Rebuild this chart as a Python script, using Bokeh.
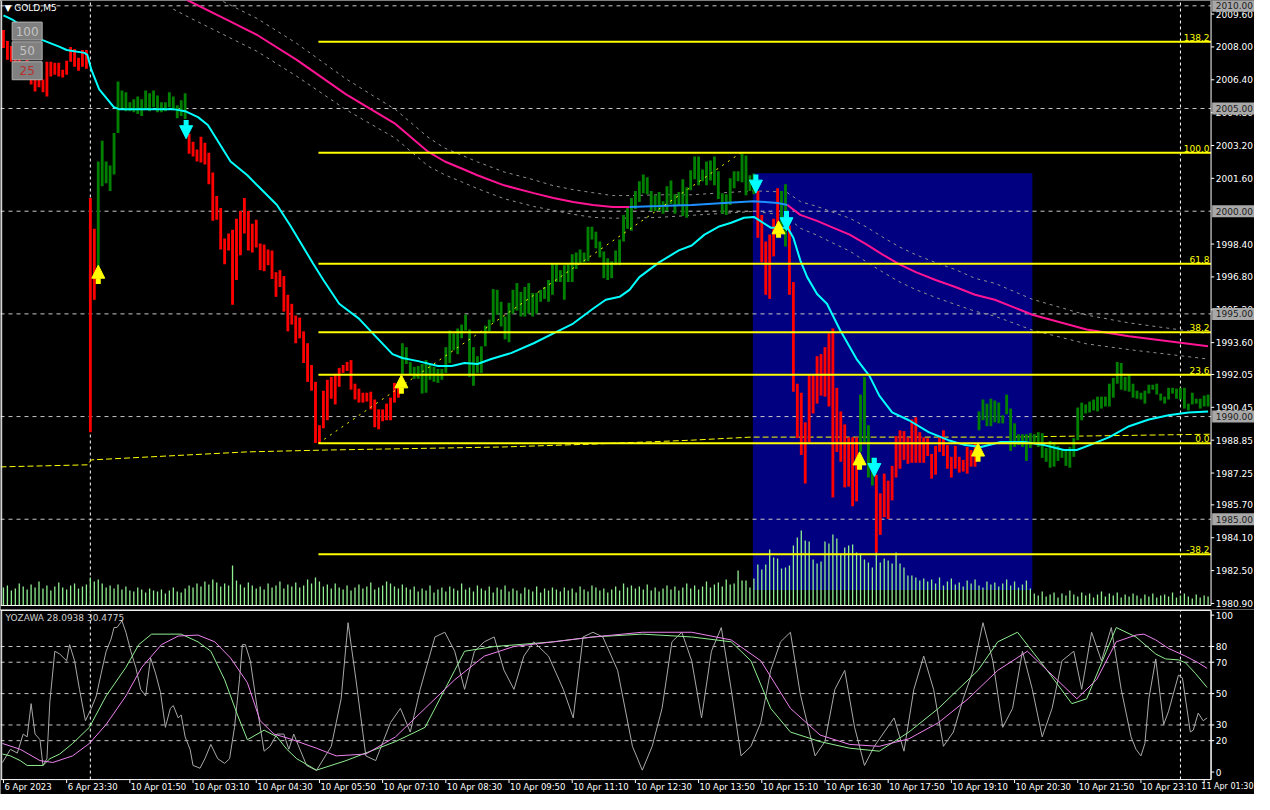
from bokeh.plotting import figure
from bokeh.models import Range1d, Label, ColumnDataSource, Arrow, NormalHead
from bokeh.layouts import column
from bokeh.embed import file_html
from bokeh.resources import INLINE
from bokeh.core.properties import value

# ---------------- data ----------------
symbol_title = "\u25BC GOLD,M5"
osc_title = "YOZAWA 28.0938 30.4775"

time_labels = ["6 Apr 2023", "6 Apr 23:30", "10 Apr 01:50", "10 Apr 03:10", "10 Apr 04:30",
               "10 Apr 05:50", "10 Apr 07:10", "10 Apr 08:30", "10 Apr 09:50", "10 Apr 11:10",
               "10 Apr 12:30", "10 Apr 13:50", "10 Apr 15:10", "10 Apr 16:30", "10 Apr 17:50",
               "10 Apr 19:10", "10 Apr 20:30", "10 Apr 21:50", "10 Apr 23:10", "11 Apr 01:30"]
bars_per_label = 16

price_ticks = [2009.60, 2008.00, 2006.40, 2004.80, 2003.20, 2001.60, 1998.40, 1996.80, 1995.20,
               1993.60, 1992.05, 1990.45, 1988.85, 1987.25, 1985.70, 1984.10, 1982.50, 1980.90]
round_levels = [2010.0, 2005.0, 2000.0, 1995.0, 1990.0, 1985.0]
osc_ticks = [0, 20, 30, 50, 70, 80, 100]
osc_levels = [80, 70, 50, 30, 20]

# heiken-ashi style bodies: top / bottom of each 5-minute bar
body_top = [
    2008.82, 2008.29, 2008.05, 2007.76, 2007.47, 2007.28, 2007.37, 2007.13, 2006.80, 2006.41,
    2006.41, 2007.28, 2007.28, 2007.23, 2007.23, 2006.89, 2007.33, 2008.00, 2007.90, 2007.47,
    2007.85, 2007.85, 2000.64, 1999.15, 2002.42, 2003.43, 2002.42, 2002.23, 2003.81, 2006.32,
    2005.88, 2005.79, 2005.30, 2005.45, 2005.59, 2005.45, 2005.88, 2005.74, 2005.88, 2005.64,
    2005.30, 2005.30, 2005.79, 2005.59, 2005.16, 2005.40, 2005.74, 2003.77, 2003.38, 2003.00,
    2003.62, 2003.33, 2002.85, 2001.89, 2000.74, 2000.16, 1998.67, 1998.91, 1999.10, 1999.63,
    2000.01, 2000.64, 2000.01, 1999.39, 1999.58, 1998.43, 1998.38, 1998.14, 1998.09, 1997.03,
    1997.13, 1996.84, 1995.93, 1995.49, 1994.92, 1994.82, 1994.15, 1993.57, 1992.51, 1991.69,
    1989.58, 1991.26, 1991.79, 1991.93, 1992.08, 1992.37, 1992.51, 1992.66, 1992.75, 1991.60,
    1991.36, 1991.16, 1991.16, 1991.21, 1990.83, 1990.35, 1990.35, 1990.63, 1990.92, 1991.64,
    1991.60, 1993.57, 1993.38, 1992.66, 1992.42, 1992.46, 1992.56, 1992.75, 1992.56, 1992.42,
    1992.32, 1992.32, 1993.38, 1994.19, 1994.05, 1994.29, 1994.48, 1994.96, 1994.24, 1993.38,
    1992.94, 1993.42, 1994.43, 1994.72, 1996.21, 1996.17, 1995.59, 1994.87, 1995.54, 1996.17,
    1996.50, 1996.07, 1996.31, 1996.50, 1996.02, 1996.02, 1996.17, 1996.31, 1996.65, 1997.42,
    1997.42, 1997.13, 1997.37, 1997.42, 1997.90, 1997.99, 1998.14, 1997.99, 1999.24, 1999.24,
    1999.00, 1998.52, 1998.04, 1997.71, 1997.56, 1998.09, 1998.62, 1999.82, 2000.16, 2000.64,
    2000.98, 2001.46, 2001.79, 2001.65, 2000.98, 2000.78, 2000.93, 2000.49, 2001.22, 2001.50,
    2000.83, 2000.93, 2001.55, 2001.17, 2001.99, 2002.66, 2002.66, 2002.03, 2002.42, 2002.47,
    2002.66, 2001.94, 2000.88, 2000.83, 2001.60, 2001.94, 2001.94, 2002.80, 2002.71, 2001.75,
    2001.84, 2000.98, 1999.82, 1998.52, 1998.86, 1999.63, 2001.12, 2000.98, 2001.31, 1999.29,
    1996.55, 1991.60, 1991.16, 1989.72, 1992.03, 1992.03, 1992.94, 1993.04, 1993.38, 1994.05,
    1994.29, 1991.40, 1990.25, 1989.62, 1988.99, 1988.99, 1988.99, 1991.07, 1991.93, 1989.58,
    1987.99, 1987.17, 1986.26, 1987.22, 1986.88, 1987.60, 1989.05, 1989.33, 1989.29, 1988.99,
    1989.86, 1989.96, 1989.24, 1988.99, 1988.95, 1988.18, 1988.57, 1988.99, 1989.33, 1988.61,
    1988.04, 1988.57, 1988.04, 1987.89, 1988.52, 1988.37, 1988.71, 1990.25, 1990.83, 1990.63,
    1990.87, 1990.78, 1990.68, 1990.06, 1991.07, 1990.39, 1989.67, 1989.14, 1989.14, 1989.14,
    1989.19, 1989.14, 1989.24, 1989.19, 1988.47, 1988.81, 1988.76, 1988.57, 1988.42, 1988.42,
    1988.52, 1988.95, 1990.44, 1990.68, 1990.59, 1990.73, 1990.83, 1990.97, 1990.97, 1990.97,
    1991.60, 1991.88, 1992.66, 1992.61, 1991.93, 1992.03, 1991.60, 1991.26, 1991.16, 1991.26,
    1991.55, 1991.55, 1991.60, 1991.12, 1990.97, 1991.40, 1991.40, 1991.36, 1991.40, 1991.40,
    1990.63, 1991.16, 1990.87, 1990.87, 1991.02, 1991.07]
body_bottom = [
    2007.95, 2007.37, 2007.28, 2006.89, 2006.65, 2006.41, 2006.51, 2006.17, 2005.83, 2006.03,
    2005.79, 2005.59, 2006.56, 2006.65, 2006.56, 2006.51, 2006.65, 2007.28, 2007.04, 2006.84,
    2007.04, 2006.94, 1989.24, 1995.69, 1997.27, 2001.22, 2001.36, 2000.98, 2001.79, 2003.81,
    2005.02, 2004.87, 2004.87, 2004.82, 2004.73, 2004.63, 2004.97, 2004.87, 2005.06, 2004.82,
    2004.82, 2004.87, 2005.06, 2004.92, 2004.53, 2004.63, 2004.49, 2002.80, 2002.66, 2002.42,
    2002.37, 2002.27, 2001.31, 1999.53, 1999.58, 1998.14, 1997.42, 1998.09, 1995.44, 1996.65,
    1997.85, 1998.91, 1998.09, 1997.99, 1998.23, 1997.13, 1997.08, 1997.37, 1996.70, 1995.83,
    1996.31, 1995.11, 1994.15, 1994.48, 1993.57, 1993.81, 1992.61, 1991.69, 1991.26, 1988.71,
    1988.71, 1989.43, 1989.82, 1990.87, 1990.59, 1991.45, 1992.13, 1992.22, 1991.31, 1990.83,
    1990.68, 1990.68, 1990.73, 1990.35, 1989.48, 1989.38, 1989.77, 1989.82, 1989.82, 1990.68,
    1990.92, 1992.03, 1992.56, 1992.03, 1991.84, 1991.84, 1991.12, 1991.16, 1991.79, 1991.69,
    1991.64, 1991.79, 1992.13, 1992.61, 1993.23, 1993.04, 1993.81, 1994.19, 1991.93, 1991.50,
    1992.13, 1992.13, 1993.42, 1994.15, 1994.58, 1994.96, 1994.39, 1993.76, 1993.62, 1995.01,
    1995.16, 1994.87, 1994.87, 1995.01, 1994.87, 1995.01, 1995.59, 1995.73, 1995.59, 1995.93,
    1996.55, 1996.55, 1995.69, 1996.55, 1996.55, 1997.18, 1997.42, 1997.51, 1997.56, 1998.62,
    1998.19, 1997.75, 1996.74, 1996.65, 1996.74, 1997.37, 1997.37, 1998.52, 1999.15, 1999.05,
    2000.11, 2000.45, 2000.88, 2000.83, 2000.01, 2000.01, 2000.01, 1999.87, 2000.01, 2000.35,
    1999.87, 2000.30, 1999.77, 1999.68, 2001.02, 2001.55, 2001.26, 2001.46, 2001.26, 2001.50,
    2001.26, 2000.59, 1999.87, 1999.82, 2000.30, 2001.12, 2001.46, 2001.41, 2000.78, 2000.98,
    2000.83, 1998.71, 1997.51, 1995.93, 1995.73, 1997.80, 1998.86, 1999.10, 1998.28, 1995.93,
    1991.21, 1988.95, 1988.13, 1986.74, 1988.76, 1990.15, 1990.63, 1991.02, 1990.97, 1990.49,
    1986.06, 1988.28, 1987.80, 1986.55, 1986.59, 1985.63, 1985.87, 1988.28, 1988.76, 1987.03,
    1986.64, 1983.37, 1984.24, 1985.10, 1985.01, 1985.92, 1987.03, 1987.46, 1987.89, 1987.70,
    1987.75, 1987.75, 1987.75, 1987.75, 1988.08, 1986.98, 1987.17, 1988.28, 1988.08, 1987.46,
    1987.03, 1987.46, 1987.27, 1987.32, 1987.22, 1987.56, 1987.56, 1989.33, 1989.82, 1989.53,
    1989.53, 1989.72, 1989.67, 1989.67, 1990.11, 1988.33, 1988.52, 1988.61, 1988.52, 1987.84,
    1988.47, 1988.76, 1988.52, 1987.99, 1987.80, 1987.51, 1987.56, 1987.84, 1987.99, 1987.60,
    1987.51, 1988.04, 1988.85, 1989.82, 1990.15, 1990.20, 1990.30, 1990.25, 1990.39, 1990.49,
    1990.49, 1990.92, 1991.60, 1991.31, 1991.26, 1991.21, 1990.92, 1990.87, 1990.83, 1990.63,
    1991.12, 1991.31, 1991.07, 1990.78, 1990.63, 1990.83, 1991.12, 1990.87, 1990.83, 1990.39,
    1990.30, 1990.59, 1990.63, 1990.39, 1990.49, 1990.49]
# bar colour runs: r = bearish (red), g = bullish (green)
trend_runs = [("r", 24), ("g", 23), ("r", 54), ("g", 90), ("r", 6), ("g", 2),
              ("r", 18), ("g", 4), ("r", 26), ("g", 59)]

tick_volume = [
    18, 20, 15, 17, 22, 19, 16, 21, 18, 24, 17, 20, 15, 19, 23, 18, 16, 20, 22, 17, 19, 21,
    28, 24,
    26, 22, 18, 20, 17, 21, 16, 19, 15, 14, 18, 16, 13, 17, 15, 14, 16, 12, 15, 18, 14, 13, 17,
    20, 18, 22, 19, 24, 21, 26, 23, 19, 22, 20, 40, 25, 21, 18, 23, 20, 17,
    19, 16, 22, 18, 20, 24, 17, 21, 19, 23, 18, 20, 26, 22, 28, 24, 19, 21, 17, 22,
    18, 16, 20, 15, 18, 21, 17, 19, 23, 16, 18, 20, 24, 22, 19, 17,
    21, 18, 16, 19, 14, 17, 15, 20, 13, 16, 18, 14, 19, 17, 15, 22, 16, 18, 14, 20,
    17, 15, 19, 13, 18, 16, 20, 14, 17, 15, 12, 18, 16, 14, 19, 13, 17, 15, 18, 16,
    14, 18, 15, 17, 13, 19, 16, 14, 20, 18, 15, 17, 13, 16, 19, 15, 22, 18, 20, 17,
    19, 16, 21, 15, 18, 14, 17, 20, 16, 19, 15, 18, 22, 17, 20, 16, 19, 24, 18, 21,
    23, 19, 26, 21, 22, 35, 25, 25, 18,
    27, 41, 36, 41, 56, 48, 47, 37, 38, 40, 60, 68, 75, 65, 64, 46, 42, 44, 64, 62,
    71, 67, 52, 58, 60, 61, 53, 52, 46, 43, 38, 59, 43, 47, 45, 42, 53, 42, 38, 30,
    30, 28, 25, 27, 24,
    26, 22, 28, 20, 24, 27, 21, 23, 19, 25, 22, 26, 20, 18, 24, 21, 23, 19, 22, 26,
    20, 24, 18, 21, 25, 17,
    12, 10, 14, 9, 11, 13, 8, 12, 10, 15, 11, 9, 13, 10, 12, 8, 11, 14, 9, 12,
    10, 13, 8, 11, 9, 12, 10, 7, 11, 9, 12, 8, 10, 11, 9, 13, 8, 10, 12, 9, 7, 11, 8, 10, 9]

# fast moving average (cyan): (bar, price)
ma_fast = [(0, 2009.54), (2.5, 2009.30), (9.75, 2008.34), (14.25, 2008.00), (16, 2007.85),
           (20.5, 2007.71), (21.25, 2007.61), (22.25, 2006.89), (24.25, 2005.93), (28, 2005.06),
           (29.25, 2004.97), (43, 2004.97), (46, 2004.87), (49.25, 2004.58), (51.75, 2004.20),
           (57.5, 2002.42), (61.75, 2001.75), (64.25, 2001.26), (69.25, 2000.30), (72.5, 1999.34),
           (78.5, 1997.42), (81, 1996.65), (85, 1995.49), (90, 1994.77), (93.5, 1994.05),
           (98.5, 1993.04), (101, 1992.85), (105, 1992.70), (110, 1992.46), (113.5, 1992.46),
           (116.75, 1992.61), (120, 1992.56), (123.5, 1992.80), (128.5, 1993.09), (134.25, 1993.57),
           (139.25, 1994.05), (144.25, 1994.53), (149.25, 1995.25), (152.5, 1995.69), (156, 1995.83),
           (158.5, 1996.17), (161, 1996.79), (166, 1997.51), (171, 1998.09), (174.25, 1998.33),
           (177.5, 1998.86), (181, 1999.24), (184.25, 1999.44), (187.5, 1999.68), (190, 1999.72),
           (194.25, 1999.20), (198.5, 1999.20), (200, 1998.71), (201.75, 1997.61), (203.5, 1996.79),
           (206, 1995.97), (208.5, 1995.49), (211.75, 1994.24), (216, 1992.80), (219.25, 1991.98),
           (221.75, 1991.02), (225, 1990.20), (229.25, 1989.82), (234.25, 1989.24), (239.25, 1988.85),
           (243.5, 1988.61), (247.5, 1988.52), (252.5, 1988.76), (258.5, 1988.76), (263.5, 1988.61),
           (268.5, 1988.37), (271.75, 1988.37), (275, 1988.61), (280, 1989.00), (285, 1989.53),
           (290, 1989.86), (295, 1990.06), (300, 1990.20), (305, 1990.25)]

# slow moving average (magenta / blue while flat): (bar, price, envelope half width)
ma_slow = [(43, 2010.64, 0.8), (46.75, 2010.26, 0.8), (56.75, 2009.30, 0.8), (64.25, 2008.58, 0.8),
           (74.25, 2007.37, 0.8), (86.75, 2005.69, 0.75), (99.25, 2004.25, 0.7), (107.5, 2002.90, 0.7),
           (111.75, 2002.42, 0.65), (116, 2002.08, 0.65), (120, 2001.75, 0.65), (126.75, 2001.26, 0.65),
           (134.25, 2000.88, 0.65), (139.25, 2000.64, 0.6), (144.25, 2000.45, 0.6), (149.25, 2000.30, 0.6),
           (154.25, 2000.21, 0.55), (158.5, 2000.21, 0.55), (166, 2000.25, 0.55), (174.25, 2000.30, 0.5),
           (182.5, 2000.40, 0.5), (190, 2000.49, 0.5), (196, 2000.40, 0.55), (198.5, 2000.30, 0.6),
           (201.75, 1999.82, 0.65), (206, 1999.53, 0.7), (210, 1999.20, 0.75), (214.25, 1998.86, 0.8),
           (218.5, 1998.38, 0.85), (222.5, 1997.90, 0.85), (226.75, 1997.42, 0.85), (231, 1997.03, 0.85),
           (236, 1996.65, 0.85), (241, 1996.31, 0.85), (246, 1995.93, 0.8), (251, 1995.69, 0.8),
           (260.5, 1994.96, 0.75), (274.25, 1994.24, 0.7), (285, 1993.91, 0.65), (305, 1993.42, 0.62)]
slow_flat_from, slow_flat_to = 158.5, 198.5

# long moving average (yellow dashed)
ma_long = [(-0.75, 1987.55), (21.25, 1987.65), (22.25, 1987.89), (61.75, 1988.28), (81.75, 1988.37),
           (126.75, 1988.52), (149.25, 1988.66), (174.25, 1988.85), (189.25, 1989.00),
           (254.25, 1989.00), (305.75, 1989.14)]

# Fibonacci retracement anchors
fib_low_bar, fib_low = 79.75, 1988.70
fib_high_bar, fib_high = 186.75, 2002.85
fib_ratios = [138.2, 100.0, 61.8, 38.2, 23.6, 0.0, -38.2]

# rectangle zone
zone_left, zone_right, zone_top, zone_bottom = 189.75, 260.5, 2001.85, 1981.55

# signal arrows: (bar, tail price, tip price)
buy_arrows = [(24, 1996.45, 1997.37), (100.75, 1991.11, 1992.03), (196.25, 1998.71, 1999.53),
              (216.75, 1987.41, 1988.28), (246.75, 1987.80, 1988.71)]
sell_arrows = [(46.25, 2004.44, 2003.53), (190.5, 2001.79, 2000.88), (198.25, 2000.01, 1999.05),
               (220.5, 1987.99, 1987.08)]

# period separators (vertical dashed)
separators = [22, 298]

# on-chart buttons
button_text = ["100", "50", "25"]
button_price = [2008.77, 2007.81, 2006.84]
button_color = ["#C4C4C4", "#C4C4C4", "#B83030"]

# oscillator lines: (bar, value)
osc_main = [(-0.25, 6.1), (1.75, 14.5), (3.5, 12.1), (5, 24.2), (6, 22.4), (7, 43.6), (8, 24.2),
            (9.25, 20.6), (10, 4.2), (11, 8.5), (11.75, 44.8), (13, 77.0), (14.25, 75.2), (16, 70.9),
            (16.75, 81.2), (18, 70.9), (19.25, 52.7), (20.75, 32.7), (22.25, 40.6), (23.5, 48.5),
            (24.75, 63.0), (26, 77.0), (27.25, 84.8), (28, 92.1), (28.75, 92.1), (30, 96.4), (31, 89.1),
            (32.25, 77.0), (33.5, 66.7), (34.75, 52.7), (36, 48.5), (37.25, 72.7), (38.5, 63.0),
            (39.75, 50.9), (41, 28.5), (42.25, 40.6), (43, 42.4), (44.25, 34.5), (45, 36.4), (46, 22.4),
            (47.25, 14.5), (48, 4.2), (49.25, 3.0), (49.75, 2.4), (51, 8.5), (52.5, 17.6), (54.25, 8.5),
            (56, 5.5), (57.25, 8.5), (58.5, 28.5), (59.75, 58.8), (60.5, 81.2), (61.25, 81.2),
            (62.5, 70.9), (64.25, 40.6), (66, 13.3), (67.5, 16.4), (69.25, 24.2), (71, 24.2),
            (72.25, 14.5), (73.5, 24.2), (74.25, 19.4), (76.75, 4.2), (79.25, 1.0), (83, 16.4),
            (85.5, 46.7), (87.25, 95.2), (89.25, 58.8), (91.75, 10.3), (94.25, 7.3), (98, 31.5),
            (100.5, 40.6), (103, 25.5), (105.5, 52.7), (109.25, 86.1), (111.75, 89.1), (114.25, 77.0),
            (116.75, 52.7), (119.25, 77.0), (121.75, 83.0), (124.25, 86.1), (126.75, 64.8),
            (129.25, 52.7), (131.75, 73.9), (134.25, 83.0), (138, 73.9), (141.75, 52.7), (144.25, 34.5),
            (146.75, 86.1), (149.25, 89.1), (151.75, 86.1), (155.5, 64.8), (159.25, 16.4), (161.75, 1.2),
            (164.25, 16.4), (166.75, 40.6), (169.25, 83.0), (171.75, 89.1), (174.25, 70.9),
            (176.75, 34.5), (179.25, 77.0), (181.75, 92.1), (184.25, 52.7), (186.75, 10.3),
            (189.25, 16.4), (191.75, 31.5), (194.25, 64.8), (196.75, 83.0), (199.25, 89.1),
            (201.75, 49.7), (205.5, 10.3), (208, 19.4), (210.5, 52.7), (213, 64.8), (215.5, 28.5),
            (218, 4.2), (220.5, 16.4), (223, 25.5), (225.5, 34.5), (228, 13.3), (230.5, 52.7),
            (233, 73.9), (235.5, 52.7), (238, 16.4), (240.5, 25.5), (243, 46.7), (245.5, 64.8),
            (248, 95.2), (250.5, 70.9), (253, 28.5), (255.5, 40.6), (258, 77.0), (260.5, 52.7),
            (263, 22.4), (265.5, 40.6), (268, 70.9), (271, 77.0), (273, 52.7), (275.5, 89.1),
            (278, 70.9), (280.5, 92.1), (283, 52.7), (285.5, 22.4), (286.75, 14.5), (288, 10.3),
            (289, 18.2), (290, 46.7), (291.75, 72.1), (293.75, 30.3), (295, 38.8), (297.5, 61.8),
            (298.5, 60.0), (300.5, 25.5), (301.25, 26.7), (302.5, 37.6), (303.75, 32.7), (304.75, 34.5)]
osc_signal = [(-0.25, 11.5), (1.75, 10.3), (4.25, 7.3), (6, 4.2), (10, 4.2), (11.75, 8.5), (14.25, 11.5),
              (17.5, 18.2), (21.75, 28.5), (26, 48.5), (31, 66.7), (34.25, 81.2), (37.5, 87.9),
              (45, 87.9), (49.25, 83.0), (52.5, 77.0), (56, 58.8), (59.25, 36.4), (61.75, 20.6),
              (66, 26.7), (69.25, 22.4), (71.75, 14.5), (74.25, 8.5), (79.25, 1.2), (86.75, 7.3),
              (99.25, 19.4), (106.75, 28.5), (114.25, 64.8), (116.75, 77.0), (124.25, 80.0),
              (139.25, 83.0), (149.25, 86.1), (161.75, 87.9), (174.25, 86.1), (184.25, 83.0),
              (189.25, 70.9), (194.25, 40.6), (199.25, 25.5), (206.75, 19.4), (214.25, 15.2),
              (221.75, 13.3), (229.25, 25.5), (236.75, 40.6), (246.75, 64.8), (251.75, 83.0),
              (256.75, 89.1), (264.25, 64.8), (270.5, 43.6), (274.25, 46.7), (279.25, 77.0),
              (281.75, 92.1), (286.75, 86.1), (291.75, 75.2), (294.25, 72.1), (297.5, 71.5),
              (299.25, 69.7), (301.75, 63.0), (304.75, 53.9)]
osc_slow = [(-0.25, 18.2), (4.25, 14.5), (9.25, 7.3), (12.5, 6.1), (17.5, 10.3), (21.75, 18.2),
            (26, 30.3), (31, 48.5), (35, 66.7), (40, 81.2), (44.25, 86.7), (49.25, 87.3), (53.5, 83.0),
            (57.5, 72.7), (61.75, 57.0), (65, 32.7), (68.5, 24.2), (72.5, 21.2), (79.25, 15.2),
            (84.25, 10.3), (91.75, 11.5), (99.25, 22.4), (106.75, 40.6), (114.25, 58.8), (121.75, 73.9),
            (129.25, 80.0), (139.25, 83.0), (149.25, 86.1), (161.75, 89.1), (174.25, 89.1),
            (184.25, 84.2), (191.75, 70.9), (199.25, 40.6), (206.75, 23.6), (214.25, 17.6),
            (221.75, 16.4), (229.25, 21.2), (236.75, 31.5), (244.25, 46.7), (251.75, 64.8),
            (259.25, 77.0), (266.75, 58.8), (271.75, 46.7), (276.75, 58.8), (281.75, 83.0),
            (286.75, 87.3), (288.75, 87.9), (291.75, 84.2), (295, 78.8), (299.25, 73.9),
            (302.5, 69.7), (304.75, 66.1)]

# ---------------- layout constants ----------------
FONT = "DejaVu Sans"
W = 1254
H_MAIN = 609
H_OSC = 185
X0, X1 = -0.75, 305.75            # chart area (bars); X1 = price-scale line
X_END = X0 + 317.5                 # includes the price scale strip
P_LO, P_HI = 1980.80, 2010.26      # main panel price range
P_VIEW_LO = 1980.605               # a few pixels below the panel for the last label
O_LO, O_HI = -4.8, 103.0           # oscillator panel range
O_VIEW_LO, O_VIEW_HI = -14.31, 103.6

n_bars = len(body_top)
bar_idx = list(range(n_bars))
trend = []
for c, n in trend_runs:
    trend.extend([c] * n)
bar_colors = ["#FF0000" if t == "r" else "#008000" for t in trend]

x_rng = Range1d(X0, X_END)


def bare(fig):
    fig.min_border = 0
    fig.min_border_left = 0
    fig.min_border_right = 0
    fig.min_border_top = 0
    fig.min_border_bottom = 0
    fig.xgrid.visible = False
    fig.ygrid.visible = False


def price_scale(fig, ticks, labels, lo, hi, fmt, boxed=None):
    # black strip for the scale, border, tick marks and labels
    fig.quad(left=[X1], right=[X_END], bottom=[fig.y_range.start], top=[fig.y_range.end],
             fill_color="black", line_color=None)
    fig.segment(x0=[X1], y0=[lo], x1=[X1], y1=[hi], line_color="white", line_width=1)
    fig.segment(x0=[X1] * len(ticks), y0=ticks, x1=[X1 + 0.8] * len(ticks), y1=ticks,
                line_color="white", line_width=1)
    fig.text(x=[X1 + 1.2] * len(ticks), y=ticks, text=[fmt % t for t in labels],
             text_align="left", text_baseline="middle", text_color="white",
             text_font=value(FONT), text_font_size="9px")
    if boxed:
        fig.rect(x=[X1 + 5.6] * len(boxed), y=boxed, width=42, height=12, width_units="screen",
                 height_units="screen", fill_color="#A8A8A8", line_color=None)
        fig.text(x=[X1 + 1.2] * len(boxed), y=boxed, text=[fmt % b for b in boxed],
                 text_align="left", text_baseline="middle", text_color="#202020",
                 text_font=value(FONT), text_font_size="9px")


# ---------------- main chart ----------------
p = figure(width=W, height=H_MAIN, x_range=x_rng, y_range=Range1d(P_VIEW_LO, P_HI),
           output_backend="svg", toolbar_location=None, x_axis_location=None,
           y_axis_location=None, background_fill_color="black",
           border_fill_color="black", outline_line_color=None)
bare(p)

# zone rectangle
p.quad(left=[zone_left], right=[zone_right], top=[zone_top], bottom=[zone_bottom],
       fill_color="#000080", line_color=None)
# grid lines and separators
p.segment(x0=[X0] * len(round_levels), y0=round_levels, x1=[X1] * len(round_levels),
          y1=round_levels, line_color="#C8C8C8", line_dash="4 4", line_width=1)
p.segment(x0=separators, y0=[P_LO] * len(separators), x1=separators, y1=[P_HI] * len(separators),
          line_color="white", line_dash="3 3", line_width=1)

# volumes
p.extra_y_ranges = {"vol": Range1d(-4, 605)}
p.segment(x0=bar_idx, y0=[0] * n_bars, x1=bar_idx, y1=tick_volume, y_range_name="vol",
          line_color="#90EE90", line_width=1.3)

# long MA
p.line([a for a, b in ma_long], [b for a, b in ma_long], line_color="#FFFF00",
       line_dash="6 3", line_width=1)

# envelopes of slow MA
p.line([a for a, b, c in ma_slow], [b + c for a, b, c in ma_slow], line_color="#909090",
       line_dash="3 4", line_width=1)
p.line([a for a, b, c in ma_slow], [b - c for a, b, c in ma_slow], line_color="#909090",
       line_dash="3 4", line_width=1)

# bars
src = ColumnDataSource(dict(x=bar_idx, top=body_top, bottom=body_bottom, color=bar_colors))
p.vbar(x="x", top="top", bottom="bottom", width=0.72, fill_color="color", line_color=None,
       source=src)

# slow MA
seg_a = [(a, b) for a, b, c in ma_slow if a <= slow_flat_from]
seg_b = [(a, b) for a, b, c in ma_slow if slow_flat_from <= a <= slow_flat_to]
seg_c = [(a, b) for a, b, c in ma_slow if a >= slow_flat_to]
for seg, col in ((seg_a, "#FF1493"), (seg_b, "#1E90FF"), (seg_c, "#FF1493")):
    p.line([a for a, b in seg], [b for a, b in seg], line_color=col, line_width=2)

# fast MA
p.line([a for a, b in ma_fast], [b for a, b in ma_fast], line_color="#00FFFF", line_width=2)

# fibonacci
fib_prices = [fib_low + r / 100.0 * (fib_high - fib_low) for r in fib_ratios]
p.segment(x0=[fib_low_bar] * len(fib_prices), y0=fib_prices, x1=[X1] * len(fib_prices),
          y1=fib_prices, line_color="#FFFF00", line_width=2)
p.segment(x0=[fib_low_bar], y0=[fib_low], x1=[fib_high_bar], y1=[fib_high],
          line_color="#FFFF00", line_dash="2 5", line_width=1)
p.text(x=[X1 - 0.4] * len(fib_prices), y=fib_prices, text=["%.1f" % r for r in fib_ratios],
       text_align="right", text_baseline="bottom", text_color="#FFFF00",
       text_font=value(FONT), text_font_size="9px", y_offset=-1)

# arrows
for rows, col in ((buy_arrows, "#FFFF00"), (sell_arrows, "#00FFFF")):
    asrc = ColumnDataSource(dict(x=[r[0] for r in rows], y0=[r[1] for r in rows],
                                 y1=[r[2] for r in rows]))
    p.add_layout(Arrow(end=NormalHead(size=13, fill_color=col, line_color=col, line_width=1),
                       x_start="x", y_start="y0", x_end="x", y_end="y1", source=asrc,
                       line_color=col, line_width=5))

# buttons
p.rect(x=[6.0] * 3, y=button_price, width=30, height=18, width_units="screen",
       height_units="screen", fill_color="#808080", line_color="#B0B0B0", line_width=1)
p.text(x=[6.0] * 3, y=button_price, text=button_text, text_color=button_color,
       text_align="center", text_baseline="middle", text_font=value(FONT),
       text_font_size="12px")

# panel borders (left, bottom) and price scale
p.segment(x0=[X0 + 0.3], y0=[P_LO], x1=[X0 + 0.3], y1=[P_HI], line_color="white", line_width=1)
p.segment(x0=[X0], y0=[P_LO], x1=[X1], y1=[P_LO], line_color="white", line_width=1)
price_scale(p, price_ticks, price_ticks, P_LO, P_HI, "%.2f", boxed=round_levels)

p.add_layout(Label(x=X0, y=P_HI, x_offset=4, y_offset=-2, text=symbol_title,
                   text_baseline="top", text_color="white", text_font=FONT,
                   text_font_size="9px"))

# ---------------- oscillator ----------------
q = figure(width=W, height=H_OSC, x_range=x_rng, y_range=Range1d(O_VIEW_LO, O_VIEW_HI),
           output_backend="svg", toolbar_location=None, x_axis_location=None,
           y_axis_location=None, background_fill_color="black",
           border_fill_color="black", outline_line_color=None)
bare(q)

q.segment(x0=[X0] * len(osc_levels), y0=osc_levels, x1=[X1] * len(osc_levels), y1=osc_levels,
          line_color="#C8C8C8", line_dash="4 4", line_width=1)
q.segment(x0=separators, y0=[O_LO] * len(separators), x1=separators, y1=[O_HI] * len(separators),
          line_color="white", line_dash="3 3", line_width=1)
q.line([a for a, b in osc_main], [b for a, b in osc_main], line_color="#A8A8A8", line_width=1)
q.line([a for a, b in osc_signal], [b for a, b in osc_signal], line_color="#90EE90", line_width=1)
q.line([a for a, b in osc_slow], [b for a, b in osc_slow], line_color="#EE82EE", line_width=1)

# borders
q.segment(x0=[X0, X0, X0 + 0.3], y0=[O_HI, O_LO, O_LO], x1=[X1, X1, X0 + 0.3],
          y1=[O_HI, O_LO, O_HI], line_color="white", line_width=1)
price_scale(q, osc_ticks, osc_ticks, O_LO, O_HI, "%d")
q.segment(x0=[X1], y0=[O_LO], x1=[X1], y1=[O_HI], line_color="white", line_width=1)

# time scale
tick_pos = [k * bars_per_label for k in range(len(time_labels))]
q.segment(x0=tick_pos, y0=[O_LO] * len(tick_pos), x1=tick_pos, y1=[O_LO - 2.2] * len(tick_pos),
          line_color="white", line_width=1)
q.text(x=tick_pos[:-1], y=[O_LO - 1.3] * (len(tick_pos) - 1), text=time_labels[:-1],
       text_align="left", text_baseline="top", text_color="white", text_font=value(FONT),
       text_font_size="8.5px", x_offset=1)
q.text(x=[X_END], y=[O_LO - 1.3], text=time_labels[-1:], text_align="right",
       text_baseline="top", text_color="white", text_font=value(FONT),
       text_font_size="8px", x_offset=-1)

q.add_layout(Label(x=X0, y=O_HI, x_offset=5, y_offset=-3, text=osc_title, text_baseline="top",
                   text_color="#D0D0D0", text_font=FONT, text_font_size="9px"))

layout = column(p, q)
html = file_html(layout, INLINE, title="GOLD,M5")
html = html.replace("<body>", '<body style="background-color:#000000;">', 1)
with open("out.html", "w") as f:
    f.write(html)
